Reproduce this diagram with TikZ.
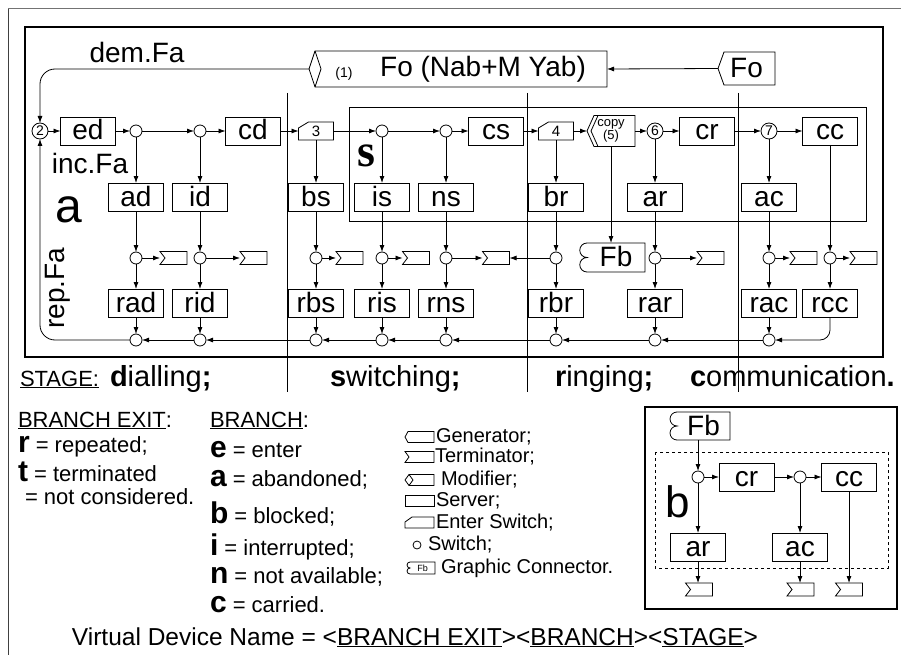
\documentclass[tikz,border=0pt]{standalone}
\usepackage{fontspec}
\setmainfont{Liberation Sans}
\newfontfamily\myserif{Liberation Serif}
\usetikzlibrary{arrows.meta}

\newcommand\drawterm[2][5pt]{\draw (#2.north west) -- (#2.north east) -- (#2.south east) -- (#2.south west) -- ([xshift=#1]#2.west) -- cycle;}
\newcommand\drawgen[2][6pt]{\draw ([xshift=#1]#2.north west) -- (#2.north east) -- (#2.south east) -- ([xshift=#1]#2.south west) -- (#2.west) -- cycle;}
\newcommand\drawmod[2][6pt]{\draw ([xshift=#1]#2.north west) -- (#2.north east) -- (#2.south east) -- ([xshift=#1]#2.south west) -- (#2.west) -- cycle; \draw ([xshift=#1]#2.north west) -- ([xshift=2*#1]#2.west) -- ([xshift=#1]#2.south west);}
\newcommand\drawent[3]{\draw ([xshift=#2]#1.north west) -- (#1.north east) -- (#1.south east) -- (#1.south west) -- ([yshift=-#3]#1.north west) -- cycle;}
\newcommand\drawgc[2][7.25pt]{\draw (#2.north east) -- (#2.north west) arc[start angle=90,end angle=270,radius=#1] arc[start angle=90,end angle=270,radius=#1] -- (#2.south east) -- cycle;}
\newcommand\drawcopy[1]{\draw ([xshift=7pt]#1.north west) -- (#1.north east) -- (#1.south east) -- ([xshift=7pt]#1.south west) -- (#1.west) -- cycle; \draw ([xshift=11pt]#1.north west) -- ([xshift=4pt]#1.west) -- ([xshift=11pt]#1.south west);}
\newcommand\keyl[1]{{\fontsize{30}{32}\selectfont\bfseries #1}}

\begin{document}
\begin{tikzpicture}[x=1pt, y=-1pt, line width=0.8pt,
  >={Latex[length=7pt,width=5pt]},
  every node/.style={inner sep=0pt, outer sep=0pt},
  bigf/.style={font=\fontsize{28}{30}\selectfont},
  boxtxt/.style={bigf, text height=21pt, text depth=3pt},
  srv/.style={draw, minimum width=55pt, minimum height=28pt, boxtxt},
  sw/.style={draw, circle, minimum size=12pt},
  nsw/.style={draw, circle, minimum size=16pt, font=\fontsize{14}{14}\selectfont},
  termsh/.style={minimum width=27pt, minimum height=13pt},
  entsh/.style={minimum width=35pt, minimum height=18pt, font=\fontsize{15}{15}\selectfont},
  lsym/.style={minimum width=29pt, minimum height=11pt},
  leg/.style={font=\fontsize{20}{22}\selectfont, anchor=west},
  lab/.style={font=\fontsize{22}{24}\selectfont, anchor=base west},
  stg/.style={font=\fontsize{29}{31}\selectfont, anchor=base west}]
\useasboundingbox (0,0) rectangle (901,655);

% frames
\draw[black!75, line width=1pt] (8,655) -- (8,9);
\draw[black!55, line width=1pt] (8,9) -- (901,9);
\draw[line width=1.6pt] (25,27) rectangle (883,357);
\draw (349,107) rectangle (866,221);
\foreach \x in {287,527,738} \draw (\x,93) -- (\x,392);

% modifier and generator Fo
\node[minimum width=298pt, minimum height=36pt] (fo) at (458,69) {};
\drawmod{fo}
\node[bigf] (fotxt) at (483,69) {Fo (Nab+M Yab)};
\node[font=\fontsize{14}{14}\selectfont] (fonum) at (344,74) {(1)};
\node[boxtxt, minimum width=57pt, minimum height=33pt] (fog) at (746.5,68.5) {Fo};
\drawgen{fog}
\draw[->] (fog.west) -- (fo.east);

% labels
\node[bigf] (dem) at (137,52) {dem.Fa};
\node[bigf] (inc) at (90,163) {inc.Fa};
\node[font=\fontsize{48}{50}\selectfont] (la) at (69,210) {a};
\node[bigf, rotate=90] (rep) at (58,288) {rep.Fa};
\node[font=\myserif\bfseries\fontsize{46}{48}\selectfont] (ls) at (366,156) {s};

% top row
\node[nsw] (c2) at (40,131) {2};
\node[srv] (ed) at (88,131) {ed};
\node[sw] (s1) at (136,131) {};
\node[sw] (s2) at (200,131) {};
\node[srv] (cd) at (253,131) {cd};
\node[entsh] (e3) at (316,131) {3};
\drawent{e3}{10pt}{6pt}
\node[sw] (s3) at (382,131) {};
\node[sw] (s4) at (446,131) {};
\node[srv] (cs) at (496,131) {cs};
\node[entsh] (e4) at (556,131) {4};
\drawent{e4}{10pt}{6pt}
\node[minimum width=48pt, minimum height=31pt, align=center, font=\fontsize{13}{12}\selectfont] (cp) at (611,131) {copy\\(5)};
\drawcopy{cp}
\node[nsw] (c6) at (655,131) {6};
\node[srv] (cr) at (707,131) {cr};
\node[nsw] (c7) at (769,131) {7};
\node[srv] (cc) at (830,131) {cc};

% second row
\node[srv] (ad) at (136,197) {ad};
\node[srv] (id) at (200,197) {id};
\node[srv] (bs) at (316,197) {bs};
\node[srv] (is) at (382,197) {is};
\node[srv] (ns) at (446,197) {ns};
\node[srv] (br) at (556,197) {br};
\node[srv] (ar) at (655,197) {ar};
\node[srv] (ac) at (769,197) {ac};

% middle switches and terminators
\node[sw] (m1) at (136,258) {};
\node[sw] (m2) at (200,258) {};
\node[sw] (m3) at (316,258) {};
\node[sw] (m4) at (382,258) {};
\node[sw] (m5) at (446,258) {};
\node[sw] (m6) at (556,258) {};
\node[sw] (m7) at (655,258) {};
\node[sw] (m8) at (769,258) {};
\node[sw] (m9) at (830,258) {};
\node[termsh] (t1) at (173.5,258) {}; \drawterm{t1}
\node[termsh] (t2) at (253.5,258) {}; \drawterm{t2}
\node[termsh] (t3) at (349.5,258) {}; \drawterm{t3}
\node[termsh] (t4) at (416,258) {}; \drawterm{t4}
\node[termsh] (t5) at (496,258) {}; \drawterm{t5}
\node[termsh] (t7) at (710.5,258) {}; \drawterm{t7}
\node[termsh] (t8) at (803.5,258) {}; \drawterm{t8}
\node[termsh] (t9) at (863.5,258) {}; \drawterm{t9}
\node[boxtxt, minimum width=58pt, minimum height=29pt] (fb) at (616,257.5) {Fb};
\drawgc{fb}

% r row
\node[srv] (rad) at (136,303) {rad};
\node[srv] (rid) at (200,303) {rid};
\node[srv] (rbs) at (316,303) {rbs};
\node[srv] (ris) at (382,303) {ris};
\node[srv] (rns) at (446,303) {rns};
\node[srv] (rbr) at (556,303) {rbr};
\node[srv] (rar) at (655,303) {rar};
\node[srv] (rac) at (769,303) {rac};
\node[srv] (rcc) at (830,303) {rcc};

% bottom switches
\node[sw] (b1) at (136,340) {};
\node[sw] (b2) at (200,340) {};
\node[sw] (b3) at (316,340) {};
\node[sw] (b4) at (382,340) {};
\node[sw] (b5) at (446,340) {};
\node[sw] (b6) at (556,340) {};
\node[sw] (b7) at (655,340) {};
\node[sw] (b8) at (769,340) {};

% connectors
\foreach \a/\b in {c2/ed, ed/s1, s1/s2, s2/cd, cd/e3, e3/s3, s3/s4, s4/cs, cs/e4, e4/cp, cp/c6, c6/cr, cr/c7, c7/cc}
  \draw[->] (\a) -- (\b);
\foreach \a/\b in {s1/ad, s2/id, e3/bs, s3/is, s4/ns, e4/br, c6/ar, c7/ac, cc/m9,
  ad/m1, id/m2, bs/m3, is/m4, ns/m5, br/m6, ar/m7, ac/m8,
  m1/t1, m2/t2, m3/t3, m4/t4, m5/t5, m6/t5, m7/t7, m8/t8, m9/t9,
  m1/rad, m2/rid, m3/rbs, m4/ris, m5/rns, m6/rbr, m7/rar, m8/rac, m9/rcc,
  rad/b1, rid/b2, rbs/b3, ris/b4, rns/b5, rbr/b6, rar/b7, rac/b8,
  b8/b7, b7/b6, b6/b5, b5/b4, b4/b3, b3/b2, b2/b1}
  \draw[->] (\a) -- (\b);
\draw[->] (cp.south) -- (cp.south |- fb.north);
\draw[->, rounded corners=10pt] (rcc.south) |- (b8.east);
\draw[->, rounded corners=15pt] (b1.west) -| (c2.south);
\draw[->, rounded corners=15pt] (fo.west) -| (c2.north);

% stage row
\node[lab] (hst) at (20,386) {\underline{STAGE:}};
\node[stg] (sd) at (110,386) {\textbf{d}ialling\textbf{;}};
\node[stg] (ss) at (330,386) {\textbf{s}witching\textbf{;}};
\node[stg] (sr) at (555,386) {\textbf{r}inging\textbf{;}};
\node[stg] (sc) at (690,386) {\textbf{c}ommunication\textbf{.}};

% legend: branch exit / branch
\node[lab] (hbe) at (18,427) {\underline{BRANCH EXIT}:};
\node[lab] (lr) at (18,452) {\keyl{r} = repeated;};
\node[lab] (lt) at (18,481) {\keyl{t} = terminated};
\node[lab] (lnc) at (25,504) {= not considered.};
\node[lab] (hb) at (210,427) {\underline{BRANCH}:};
\node[lab] (le) at (210,457) {\keyl{e} = enter};
\node[lab] (la2) at (210,486) {\keyl{a} = abandoned;};
\node[lab] (lb) at (210,523) {\keyl{b} = blocked;};
\node[lab] (li) at (210,555) {\keyl{i} = interrupted;};
\node[lab] (ln) at (210,583) {\keyl{n} = not available;};
\node[lab] (lc) at (210,612) {\keyl{c} = carried.};

% legend: symbols
\node[lsym] (lgen) at (419.5,437) {}; \drawgen[3pt]{lgen}
\node[leg] (tgen) at (436,437) {Generator;};
\node[lsym] (lterm) at (419.5,457) {}; \drawterm[4pt]{lterm}
\node[leg] (tterm) at (435,457) {Terminator;};
\node[lsym] (lmod) at (419.5,480) {}; \drawmod[4pt]{lmod}
\node[leg] (tmod) at (441,480) {Modifier;};
\node[lsym, draw] (lsrv) at (419.5,501) {};
\node[leg] (tsrv) at (436,501) {Server;};
\node[lsym] (lent) at (419.5,522.5) {}; \drawent{lent}{7pt}{5pt}
\node[leg] (tent) at (436,522.5) {Enter Switch;};
\node[draw, circle, minimum size=8pt] (lsw) at (417,545) {};
\node[leg] (tsw) at (428,545) {Switch;};
\node[minimum width=25pt, minimum height=12pt, font=\fontsize{9}{9}\selectfont] (lgc) at (422.5,568) {Fb}; \drawgc[3pt]{lgc}
\node[leg] (tgc) at (441,568) {Graphic Connector.};

% box b
\draw[line width=1.2pt] (645,407) rectangle (897,609);
\draw[dashed] (655,452) rectangle (888,568);
\node[boxtxt, minimum width=53pt, minimum height=28pt] (bfb) at (703.5,426) {Fb};
\drawgc[7pt]{bfb}
\node[font=\fontsize{44}{46}\selectfont] (lbb) at (678,502) {b};
\node[sw] (bs1) at (698,477) {};
\node[srv] (bcr) at (746.5,477) {cr};
\node[sw] (bs2) at (800,477) {};
\node[srv] (bcc) at (849,477) {cc};
\node[srv] (bar) at (698,547) {ar};
\node[srv] (bac) at (800,547) {ac};
\node[termsh] (bt1) at (699,589.5) {}; \drawterm{bt1}
\node[termsh] (bt2) at (800.5,589.5) {}; \drawterm{bt2}
\node[termsh] (bt3) at (849,589.5) {}; \drawterm{bt3}
\draw[->] (bs1 |- bfb.south) -- (bs1.north);
\foreach \a/\b in {bs1/bcr, bcr/bs2, bs2/bcc, bs1/bar, bs2/bac}
  \draw[->] (\a) -- (\b);
\draw[->] (bar.south) -- (bar.south |- bt1.north);
\draw[->] (bac.south) -- (bac.south |- bt2.north);
\draw[->] (bcc.south) -- (bt3.north);

% bottom line
\node[font=\fontsize{24.5}{26}\selectfont, anchor=base] (vdn) at (415,645) {Virtual Device Name = <\underline{BRANCH EXIT}><\underline{BRANCH}><\underline{STAGE}>};
\end{tikzpicture}
\end{document}
